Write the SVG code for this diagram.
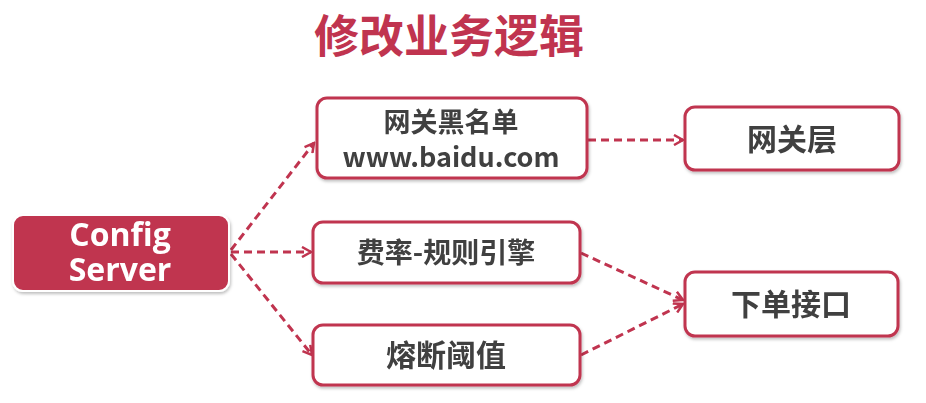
<svg xmlns="http://www.w3.org/2000/svg" width="926" height="403" viewBox="0 0 926 403">
<defs>
<style>
.box{fill:#fff;stroke:#C0344F;stroke-width:3}
.cs{fill:#C0344F;stroke:#fff;stroke-width:2}
.t{font-family:"Noto Sans CJK SC","Open Sans",sans-serif;font-weight:bold;fill:#404040;text-anchor:middle}
.tw{font-family:"Open Sans","Noto Sans CJK SC",sans-serif;font-weight:bold;fill:#fff;text-anchor:middle}
.c{fill:none;stroke:#C0344F;stroke-width:3;stroke-dasharray:8 5;marker-end:url(#ah)}
</style>
<marker id="ah" viewBox="0 0 12 12" refX="10" refY="6" markerWidth="12" markerHeight="12" markerUnits="userSpaceOnUse" orient="auto">
<path d="M1,1 L10,6 L1,11" fill="none" stroke="#C0344F" stroke-width="2.5"/>
</marker>
<filter id="sh" x="-10%" y="-10%" width="120%" height="130%">
<feDropShadow dx="1" dy="2" stdDeviation="1.5" flood-color="#000" flood-opacity="0.25"/>
</filter>
</defs>
<rect width="926" height="403" fill="#fff"/>
<text x="449" y="53" font-family="Noto Sans CJK SC,sans-serif" font-weight="bold" font-size="45" fill="#C0344F" text-anchor="middle">修改业务逻辑</text>
<g id="connectors">
<path class="c" d="M231,250 L314,143"/>
<path class="c" d="M231,252 L311,252"/>
<path class="c" d="M231,254 L312,355"/>
<path class="c" d="M588,140 L683,140"/>
<path class="c" d="M581,253 L683,300"/>
<path class="c" d="M581,355 L683,304"/>
</g>
<g id="config-server" filter="url(#sh)">
<rect class="cs" x="13" y="215" width="216" height="76" rx="10"/>
<text class="tw" x="120" y="246" font-size="32">Config</text>
<text class="tw" x="120" y="281" font-size="32">Server</text>
</g>
<g id="gateway-blacklist" filter="url(#sh)">
<rect class="box" x="317" y="98" width="270" height="80" rx="10"/>
<text class="t" x="451" y="132" font-size="27">网关黑名单</text>
<text class="t" x="451" y="167" font-size="27">www.baidu.com</text>
</g>
<g id="gateway-layer" filter="url(#sh)">
<rect class="box" x="685" y="107" width="214" height="63" rx="10"/>
<text class="t" x="792" y="150" font-size="30">网关层</text>
</g>
<g id="rate-rules" filter="url(#sh)">
<rect class="box" x="313" y="222" width="267" height="61" rx="10"/>
<text class="t" x="446" y="263" font-size="28">费率-规则引擎</text>
</g>
<g id="circuit-threshold" filter="url(#sh)">
<rect class="box" x="313" y="325" width="267" height="60" rx="10"/>
<text class="t" x="446" y="366" font-size="30">熔断阈值</text>
</g>
<g id="order-api" filter="url(#sh)">
<rect class="box" x="685" y="272" width="213" height="64" rx="10"/>
<text class="t" x="791" y="315" font-size="30">下单接口</text>
</g>
</svg>
